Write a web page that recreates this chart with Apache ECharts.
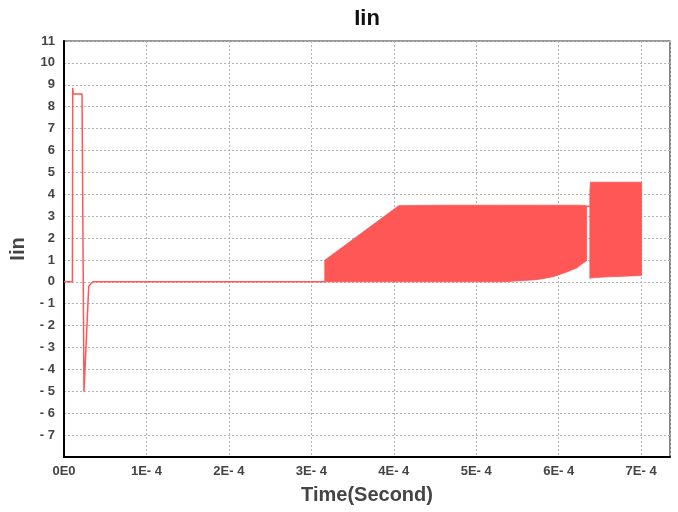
<!DOCTYPE html>
<html>
<head>
<meta charset="utf-8">
<script src="https://cdn.jsdelivr.net/npm/echarts@6/dist/echarts.min.js"></script>
<style>html,body{margin:0;padding:0;background:#fff;}#c{width:678px;height:512px;}</style>
</head>
<body>
<div id="c"></div>
<script>
// Tick labels
const xTickLabels = ['0E0', '1E- 4', '2E- 4', '3E- 4', '4E- 4', '5E- 4', '6E- 4', '7E- 4'];

// Start-up transient and quiet part (time in s, current in A)
const transientTime = [0, 1.019e-5, 1.055e-5, 1.116e-5, 2.184e-5, 2.426e-5, 2.997e-5, 3.239e-5, 3.518e-5, 3.163e-4];
const transientValue = [0, 0, 8.86, 8.58, 8.58, -5.02, -0.2, -0.1, 0, 0];

// First switching band (envelope)
const band1Time = [3.163e-4, 4.06e-4, 4.6e-4, 5.0e-4, 5.32e-4, 5.53e-4, 5.73e-4, 5.93e-4, 6.09e-4, 6.22e-4, 6.30e-4, 6.338e-4];
const band1Upper = [0.99, 3.48, 3.5, 3.5, 3.5, 3.5, 3.5, 3.5, 3.5, 3.5, 3.49, 3.47];
const band1Lower = [0, 0, 0, 0, 0, 0.05, 0.1, 0.23, 0.44, 0.64, 0.87, 0.95];

// Short flat section between the bands
const gapTime = [6.338e-4, 6.378e-4];
const gapValue = [3.45, 3.45];

// Second switching band
const band2Time = [6.378e-4, 6.386e-4, 6.45e-4, 6.6e-4, 6.8e-4, 7.005e-4];
const band2Upper = [4.14, 4.55, 4.55, 4.55, 4.55, 4.55];
const band2Lower = [0.15, 0.18, 0.2, 0.23, 0.26, 0.29];

const RED = '#ff5656';
const FONT = '"Liberation Sans", Arial, sans-serif';

function zip(a, b) { return a.map((v, i) => [v, b[i]]); }

function bandSeries(times, upper, lower) {
  return {
    type: 'custom',
    silent: true,
    data: times.map((t, i) => [t, lower[i], upper[i]]),
    encode: { x: 0, y: [1, 2] },
    renderItem: function (params, api) {
      if (params.dataIndex !== 0) return null;
      const pts = [];
      for (let i = 0; i < times.length; i++) pts.push(api.coord([times[i], upper[i]]));
      for (let i = times.length - 1; i >= 0; i--) pts.push(api.coord([times[i], lower[i]]));
      return {
        type: 'polygon',
        shape: { points: pts },
        style: { fill: RED, stroke: RED, lineWidth: 0.8 }
      };
    },
    z: 3
  };
}

const chart = echarts.init(document.getElementById('c'), null, { renderer: 'canvas' });
const labelStyle = { color: '#444', fontWeight: 'bold', fontSize: 13, fontFamily: FONT };
const gridLine = { show: true, lineStyle: { color: '#b4b4b4', type: [2, 2], width: 1 } };

chart.setOption({
  animation: false,
  backgroundColor: '#fff',
  title: {
    text: 'Iin',
    left: 362,
    top: 3,
    textAlign: 'center',
    textStyle: { fontSize: 22, fontWeight: 'bold', color: '#111', fontFamily: FONT }
  },
  grid: {
    left: 64, right: 8, top: 41, bottom: 55,
    show: true, borderColor: '#333', borderWidth: 1.2, backgroundColor: 'transparent'
  },
  xAxis: {
    type: 'value',
    min: 0, max: 7.35e-4, interval: 1e-4,
    name: 'Time(Second)',
    nameLocation: 'middle',
    nameGap: 28,
    nameTextStyle: { fontSize: 20, fontWeight: 'bold', color: '#444', fontFamily: FONT },
    axisLine: { show: true, onZero: false, lineStyle: { color: '#000', width: 2 } },
    axisTick: { show: false },
    splitLine: gridLine,
    axisLabel: Object.assign({}, labelStyle, {
      margin: 8,
      showMaxLabel: false,
      formatter: function (v) {
        const i = Math.round(v / 1e-4);
        return Math.abs(v - i * 1e-4) < 1e-9 && xTickLabels[i] !== undefined ? xTickLabels[i] : '';
      }
    })
  },
  yAxis: {
    type: 'value',
    min: -8, max: 11, interval: 1,
    name: 'Iin',
    nameLocation: 'middle',
    nameGap: 30,
    nameTextStyle: { fontSize: 20, fontWeight: 'bold', color: '#444', fontFamily: FONT },
    axisLine: { show: true, onZero: false, lineStyle: { color: '#000', width: 2 } },
    axisTick: { show: false },
    splitLine: gridLine,
    axisLabel: Object.assign({}, labelStyle, {
      margin: 9,
      showMinLabel: false,
      formatter: function (v) { return v < 0 ? '- ' + (-v) : String(v); }
    })
  },
  series: [
    {
      type: 'line',
      data: zip(transientTime, transientValue),
      showSymbol: false,
      lineStyle: { color: RED, width: 1.5 },
      z: 4
    },
    bandSeries(band1Time, band1Upper, band1Lower),
    {
      type: 'line',
      data: zip(gapTime, gapValue),
      showSymbol: false,
      lineStyle: { color: RED, width: 1.5 },
      z: 4
    },
    bandSeries(band2Time, band2Upper, band2Lower)
  ]
});
</script>
</body>
</html>
